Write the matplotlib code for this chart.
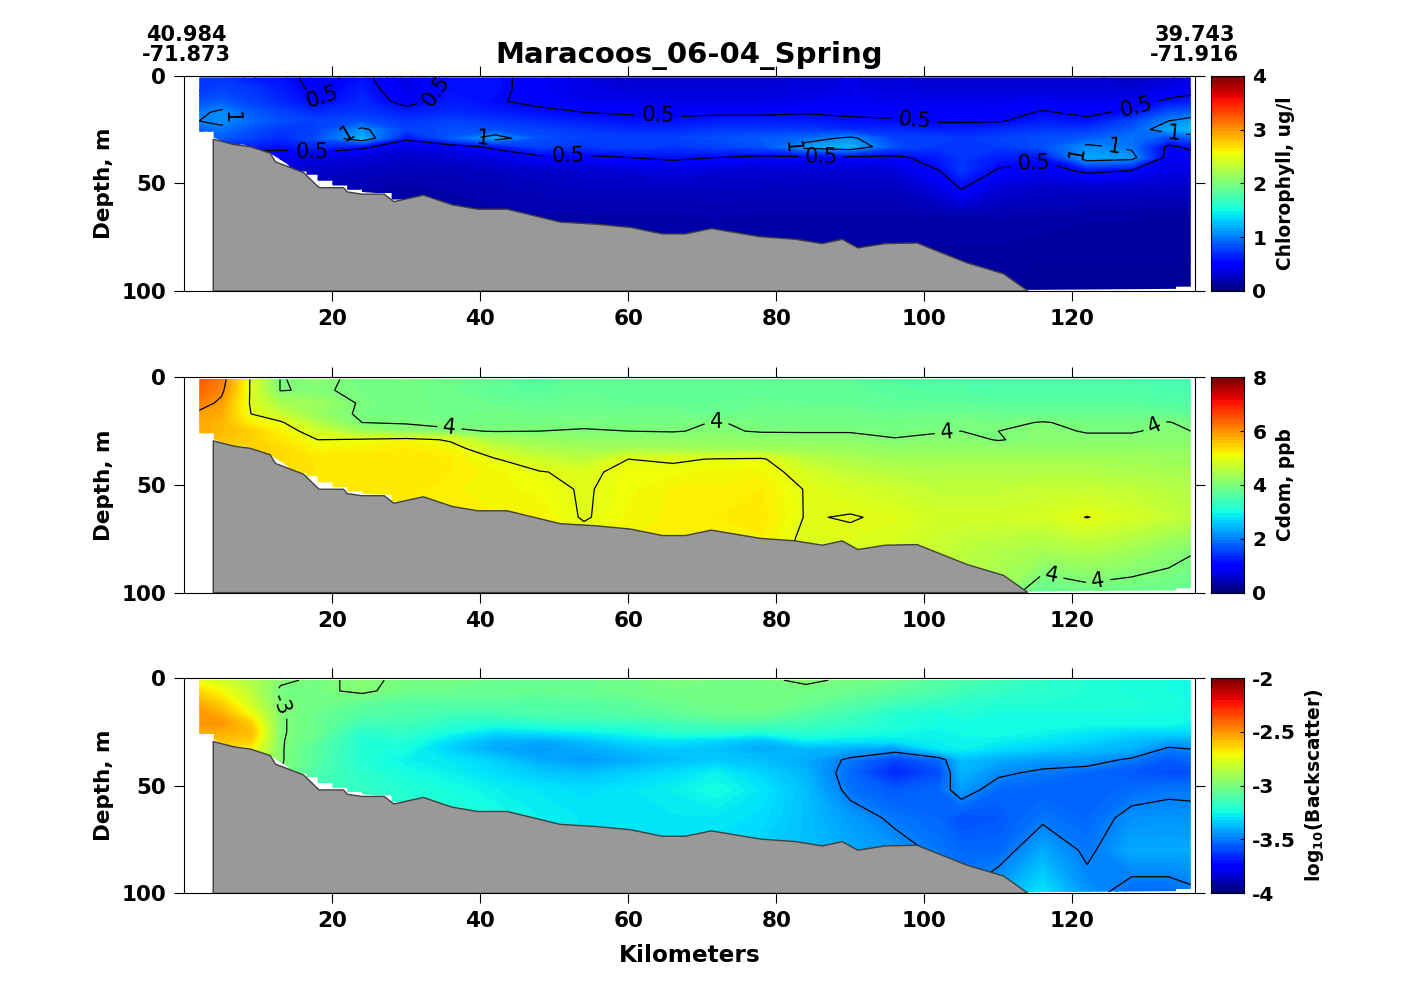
import numpy as np
import matplotlib
matplotlib.use('Agg')
import matplotlib.pyplot as plt
from matplotlib.patches import Polygon

plt.rcParams['font.family'] = 'DejaVu Sans'
plt.rcParams['font.weight'] = 'bold'
plt.rcParams['axes.unicode_minus'] = False
plt.rcParams['mathtext.default'] = 'bf'
plt.rcParams['contour.negative_linestyle'] = 'solid'

km = [2, 5, 9, 13, 18, 24, 30, 36, 42, 48, 54, 60, 66, 72, 78, 84, 90, 96, 102, 105, 110, 116, 122, 128, 133, 136]
depth = [1, 6, 12, 17, 21, 25, 29, 33, 38, 44, 52, 65, 80, 100]

chl = [
    [.70, .70, .60, .55, .45, .55, .35, .55, .55, .42, .35, .30, .30, .30, .30, .32, .35, .32, .30, .30, .30, .30, .30, .25, .30, .35],
    [.70, .75, .70, .60, .45, .60, .35, .55, .55, .42, .35, .30, .30, .30, .30, .32, .35, .32, .30, .30, .30, .30, .30, .28, .35, .40],
    [.80, .85, .75, .65, .50, .65, .42, .60, .52, .45, .38, .38, .35, .35, .35, .38, .40, .38, .38, .38, .40, .40, .38, .40, .55, .60],
    [.95, 1.05, .85, .75, .65, .70, .60, .65, .60, .55, .50, .48, .45, .45, .45, .48, .45, .45, .42, .42, .42, .52, .45, .55, .80, .85],
    [1.0, 1.05, .90, .80, .75, .80, .70, .75, .70, .65, .60, .55, .55, .60, .60, .60, .55, .52, .48, .48, .48, .60, .55, .75, 1.0, 1.10],
    [.85, .95, .80, .70, .75, 1.05, .75, .80, .80, .75, .70, .65, .65, .70, .70, .72, .65, .65, .60, .60, .65, .70, .70, .85, 1.15, 1.20],
    [.80, .85, .75, .65, .80, 1.2, .55, .85, 1.12, .80, .75, .75, .75, .80, .85, .90, 1.05, .75, .75, .70, .75, .80, .85, .95, .75, .85],
    [.50, .60, .60, .55, .65, .55, .35, .40, .55, .75, .70, .75, .70, .75, .80, 1.10, 1.20, .80, .70, .70, .72, .80, 1.05, .95, .45, .55],
    [.30, .35, .35, .40, .35, .30, .25, .28, .35, .45, .45, .50, .55, .50, .45, .45, .45, .45, .60, .70, .60, .55, 1.15, 1.10, .40, .40],
    [.25, .25, .25, .25, .25, .22, .20, .20, .22, .25, .28, .30, .32, .30, .28, .28, .28, .30, .50, .70, .48, .40, .55, .50, .35, .35],
    [.20, .20, .20, .20, .18, .16, .14, .16, .18, .20, .22, .22, .22, .22, .22, .20, .22, .22, .35, .52, .30, .25, .25, .25, .25, .25],
    [.15, .15, .15, .15, .15, .15, .12, .12, .14, .15, .15, .15, .15, .16, .15, .15, .15, .15, .15, .15, .16, .15, .13, .13, .12, .12],
    [.12, .12, .12, .12, .12, .12, .12, .12, .12, .12, .12, .12, .12, .12, .12, .12, .12, .12, .12, .12, .12, .10, .10, .10, .10, .10],
    [.10, .10, .10, .10, .10, .10, .10, .10, .10, .10, .10, .10, .10, .10, .10, .10, .10, .10, .10, .10, .10, .08, .08, .08, .08, .08],
]

cdom = [
    [6.5, 6.2, 4.95, 3.98, 4.1, 3.9, 3.95, 3.85, 3.75, 3.6, 3.75, 3.75, 3.7, 3.7, 3.7, 3.7, 3.7, 3.6, 3.55, 3.5, 3.5, 3.5, 3.5, 3.5, 3.5, 3.5],
    [6.4, 6.1, 4.95, 3.98, 4.05, 3.92, 3.9, 3.82, 3.7, 3.65, 3.75, 3.7, 3.7, 3.7, 3.7, 3.7, 3.7, 3.65, 3.6, 3.6, 3.55, 3.55, 3.55, 3.55, 3.5, 3.5],
    [6.2, 5.9, 4.95, 4.4, 4.3, 3.95, 3.9, 3.85, 3.8, 3.75, 3.8, 3.75, 3.75, 3.75, 3.8, 3.75, 3.75, 3.7, 3.7, 3.7, 3.65, 3.65, 3.65, 3.65, 3.6, 3.6],
    [5.9, 5.8, 5.0, 4.7, 4.25, 3.93, 3.9, 3.85, 3.9, 3.85, 3.85, 3.85, 3.85, 3.8, 3.85, 3.85, 3.85, 3.8, 3.85, 3.85, 3.8, 3.8, 3.8, 3.8, 3.75, 3.7],
    [5.8, 5.7, 5.2, 5.05, 4.5, 4.0, 3.98, 3.92, 3.9, 3.92, 3.95, 3.92, 3.92, 4.02, 3.92, 3.9, 3.9, 3.88, 3.92, 3.95, 3.92, 4.02, 3.92, 3.92, 4.02, 3.9],
    [5.8, 5.7, 5.5, 5.2, 4.8, 4.3, 4.1, 4.05, 3.98, 4.0, 4.02, 4.0, 3.98, 4.05, 3.97, 3.97, 3.97, 3.93, 3.97, 4.0, 4.0, 4.1, 3.97, 3.97, 4.08, 4.0],
    [5.7, 5.6, 5.5, 5.3, 5.0, 5.05, 5.15, 4.95, 4.4, 4.25, 4.2, 4.2, 4.2, 4.2, 4.2, 4.15, 4.15, 4.02, 4.1, 4.1, 3.98, 4.1, 4.1, 4.1, 4.1, 4.1],
    [5.6, 5.5, 5.5, 5.4, 5.15, 5.2, 5.25, 5.15, 4.7, 4.45, 4.35, 4.35, 4.35, 4.3, 4.3, 4.3, 4.25, 4.2, 4.2, 4.2, 4.2, 4.2, 4.2, 4.2, 4.2, 4.2],
    [5.5, 5.5, 5.5, 5.4, 5.3, 5.3, 5.3, 5.25, 5.02, 4.75, 4.6, 5.0, 4.95, 5.02, 5.05, 4.6, 4.45, 4.35, 4.35, 4.35, 4.35, 4.35, 4.35, 4.35, 4.3, 4.3],
    [5.4, 5.4, 5.4, 5.4, 5.3, 5.3, 5.3, 5.25, 5.15, 5.02, 4.92, 5.1, 5.1, 5.15, 5.15, 4.85, 4.65, 4.55, 4.5, 4.5, 4.5, 4.5, 4.5, 4.45, 4.4, 4.4],
    [5.3, 5.3, 5.3, 5.3, 5.3, 5.3, 5.3, 5.2, 5.15, 5.1, 4.97, 5.1, 5.2, 5.2, 5.25, 4.98, 4.85, 4.75, 4.65, 4.65, 4.65, 4.7, 4.7, 4.65, 4.55, 4.5],
    [5.2, 5.2, 5.2, 5.2, 5.2, 5.2, 5.2, 5.2, 5.2, 5.2, 4.97, 5.15, 5.2, 5.25, 5.3, 4.98, 5.02, 4.95, 4.8, 4.8, 4.8, 4.85, 5.01, 4.85, 4.7, 4.6],
    [5.2, 5.2, 5.2, 5.2, 5.2, 5.2, 5.2, 5.2, 5.2, 5.2, 5.2, 5.2, 5.2, 5.2, 5.2, 4.9, 4.9, 4.85, 4.7, 4.6, 4.5, 4.4, 4.5, 4.35, 4.15, 4.05],
    [5.2, 5.2, 5.2, 5.2, 5.2, 5.2, 5.2, 5.2, 5.2, 5.2, 5.2, 5.2, 5.2, 5.2, 5.2, 4.8, 4.8, 4.7, 4.6, 4.5, 4.3, 3.7, 3.85, 3.8, 3.8, 3.7],
]

backscatter = [
    [-2.75, -2.8, -2.88, -2.98, -3.02, -2.98, -3.02, -3.02, -3.05, -3.05, -3.05, -3.04, -3.0, -3.02, -3.02, -2.98, -3.02, -3.05, -3.1, -3.12, -3.15, -3.2, -3.22, -3.24, -3.25, -3.25],
    [-2.65, -2.72, -2.85, -3.02, -3.02, -2.98, -3.04, -3.05, -3.05, -3.06, -3.05, -3.04, -3.02, -3.02, -3.02, -3.03, -3.05, -3.08, -3.12, -3.15, -3.18, -3.2, -3.22, -3.24, -3.25, -3.25],
    [-2.55, -2.62, -2.8, -3.0, -3.03, -3.08, -3.1, -3.1, -3.1, -3.1, -3.1, -3.08, -3.05, -3.03, -3.02, -3.05, -3.1, -3.15, -3.18, -3.2, -3.22, -3.22, -3.22, -3.23, -3.24, -3.25],
    [-2.5, -2.55, -2.72, -2.99, -3.05, -3.1, -3.12, -3.15, -3.15, -3.12, -3.12, -3.1, -3.08, -3.05, -3.05, -3.1, -3.15, -3.22, -3.25, -3.22, -3.25, -3.25, -3.25, -3.25, -3.25, -3.25],
    [-2.5, -2.5, -2.62, -2.99, -3.05, -3.15, -3.15, -3.2, -3.22, -3.2, -3.18, -3.18, -3.15, -3.12, -3.12, -3.15, -3.18, -3.22, -3.25, -3.25, -3.25, -3.25, -3.25, -3.25, -3.25, -3.28],
    [-2.55, -2.55, -2.58, -2.99, -3.05, -3.2, -3.18, -3.25, -3.32, -3.3, -3.28, -3.25, -3.2, -3.2, -3.22, -3.2, -3.22, -3.25, -3.28, -3.25, -3.25, -3.27, -3.3, -3.32, -3.32, -3.32],
    [-2.6, -2.6, -2.62, -2.99, -3.08, -3.22, -3.22, -3.32, -3.4, -3.42, -3.38, -3.32, -3.3, -3.33, -3.38, -3.28, -3.3, -3.3, -3.28, -3.28, -3.28, -3.3, -3.33, -3.38, -3.42, -3.42],
    [-2.65, -2.65, -2.7, -2.99, -3.1, -3.22, -3.25, -3.35, -3.42, -3.45, -3.42, -3.38, -3.36, -3.38, -3.42, -3.4, -3.42, -3.45, -3.3, -3.28, -3.32, -3.35, -3.38, -3.4, -3.52, -3.5],
    [-2.7, -2.7, -2.75, -2.99, -3.1, -3.22, -3.28, -3.3, -3.35, -3.42, -3.45, -3.42, -3.38, -3.36, -3.38, -3.42, -3.52, -3.62, -3.55, -3.38, -3.42, -3.45, -3.45, -3.52, -3.58, -3.55],
    [-2.75, -2.75, -2.8, -3.0, -3.12, -3.2, -3.25, -3.28, -3.32, -3.36, -3.38, -3.35, -3.32, -3.28, -3.34, -3.4, -3.55, -3.68, -3.6, -3.4, -3.48, -3.52, -3.55, -3.58, -3.6, -3.6],
    [-2.8, -2.8, -2.85, -3.0, -3.15, -3.18, -3.22, -3.25, -3.28, -3.3, -3.32, -3.3, -3.28, -3.25, -3.3, -3.38, -3.53, -3.58, -3.55, -3.45, -3.55, -3.56, -3.56, -3.54, -3.52, -3.52],
    [-2.85, -2.85, -2.9, -3.0, -3.15, -3.18, -3.2, -3.22, -3.25, -3.28, -3.3, -3.3, -3.3, -3.3, -3.32, -3.38, -3.45, -3.52, -3.55, -3.6, -3.58, -3.52, -3.55, -3.47, -3.46, -3.47],
    [-2.9, -2.9, -2.9, -3.0, -3.15, -3.18, -3.2, -3.22, -3.25, -3.28, -3.3, -3.3, -3.3, -3.32, -3.35, -3.38, -3.42, -3.46, -3.52, -3.55, -3.55, -3.42, -3.52, -3.42, -3.42, -3.42],
    [-2.9, -2.9, -2.9, -3.0, -3.15, -3.18, -3.2, -3.22, -3.25, -3.28, -3.3, -3.3, -3.3, -3.32, -3.35, -3.38, -3.42, -3.46, -3.5, -3.5, -3.42, -3.3, -3.46, -3.55, -3.55, -3.52],
]

bathy_km = [3.9, 6.7, 8.9, 11.6, 12.3, 16.1, 18.2, 21.5, 22, 24, 27, 28.3, 32.3, 36.2, 39.6, 43.6, 50.8, 55.7, 60.3,
            64.6, 67.7, 71.2, 77.8, 82.6, 86.2, 88.9, 91, 94.7, 99, 105.8, 110.7, 114]
bathy_depth = [29.5, 32, 33, 36, 40, 45, 52, 52, 54, 55, 55, 58.5, 55.5, 60, 62, 62, 68, 69, 70.5,
               73.5, 73.5, 71, 74.8, 76, 78, 76, 80, 78, 77.7, 87, 92, 100]

# outer edge of the sampled section, steps on the bottom left
edge_km = [2, 136, 136, 134, 134, 114, 30, 30, 28, 28, 26, 24, 24, 22, 22, 20, 20, 18, 18, 16.5, 16.5, 14.1, 14.1, 11.6, 8, 6.2, 3.97, 3.97, 2]
edge_depth = [.8, .8, 98, 98, 99, 99.5, 60, 57.5, 57.5, 54.5, 54.5, 54, 53, 53, 51, 51, 48.8, 48.8, 46, 46, 44.5, 44.5, 41.5, 36, 32, 32, 28.7, 26, 26]

titles = ['Chlorophyll, ug/l', 'Cdom, ppb', r'log$_{10}$(Backscatter)']
limits = [(0, 4), (0, 8), (-4, -2)]
bar_ticks = [[0, 1, 2, 3, 4], [0, 2, 4, 6, 8], [-4, -3.5, -3, -2.5, -2]]
bar_labels = [['0', '1', '2', '3', '4'], ['0', '2', '4', '6', '8'], ['-4', '-3.5', '-3', '-2.5', '-2']]
bar_pads = [7, 7, 5]
plain_levels = [[], [5, 6], [-3.5]]
label_levels = [[.5, 1], [4], [-3]]
label_spots = [
    [(18.4, 9), (34.7, 9.5), (64, 19), (98.6, 23), (128.8, 17), (17.3, 30), (51.8, 37), (86, 41), (115, 45),
     (5.8, 20), (22, 27), (40.3, 29), (81.5, 32), (121.3, 36), (125.5, 36), (133.8, 24)],
    [(35.8, 24), (72, 23.4), (103.2, 31), (131.6, 26), (117, 95), (123.6, 98)],
    [(9.3, 19)],
]
fields = [chl, cdom, backscatter]
tops = [75.7, 377.3, 678]

W, H = 1422, 1005
fig = plt.figure(figsize=(W / 100, H / 100), dpi=100)

for i in range(3):
    bottom = 1 - (tops[i] + 215.3) / H
    ax = fig.add_axes([184.4 / W, bottom, (1194.5 - 184.4) / W, 215.3 / H])
    cax = fig.add_axes([1211 / W, bottom, 33 / W, 215.3 / H])

    lo, hi = limits[i]
    z = np.array(fields[i])
    cf = ax.contourf(km, depth, z, levels=np.linspace(lo, hi, 129), cmap='jet', extend='both')
    clip = Polygon(np.column_stack([edge_km, edge_depth]), transform=ax.transData)
    cf.set_clip_path(clip)
    if plain_levels[i]:
        ax.contour(km, depth, z, levels=plain_levels[i], colors='k', linewidths=0.9).set_clip_path(clip)

    cl = ax.contour(km, depth, z, levels=label_levels[i], colors='k', linewidths=0.9)
    cl.set_clip_path(clip)
    ax.set_xlim(0, 136.5)
    ax.set_ylim(100, 0)
    labs = ax.clabel(cl, fmt='%g', fontsize=15, manual=label_spots[i], inline=True)
    for t in labs:
        t.set_fontweight('normal')

    ax.fill(bathy_km + [bathy_km[-1], bathy_km[0]], bathy_depth + [100, 100],
            facecolor='#999999', edgecolor='#404040', linewidth=1, zorder=3)

    ax.set_xticks([20, 40, 60, 80, 100, 120])
    ax.set_yticks([0, 50, 100])
    ax.tick_params(direction='out', length=7.2, width=0.8, top=True, right=True, labelsize=15.5, pad=5.8)
    ax.set_ylabel('Depth, m', fontsize=15.5, fontweight='bold', labelpad=5.6)
    if i == 2:
        ax.set_xlabel('Kilometers', fontsize=16.7, fontweight='bold', labelpad=9)
    if i == 0:
        ax.set_title('Maracoos_06-04_Spring', fontsize=21, fontweight='bold', pad=9)
        ax.text(0.2, 1.048, '40.984\n-71.873', ha='center', va='bottom', fontsize=15, linespacing=1.05,
                transform=ax.get_xaxis_transform())
        ax.text(136.5, 1.048, '39.743\n-71.916', ha='center', va='bottom', fontsize=15, linespacing=1.05,
                transform=ax.get_xaxis_transform())

    grad = np.linspace(lo, hi, 65).reshape(-1, 1)
    cax.imshow(grad, origin='lower', aspect='auto', cmap='jet', vmin=lo, vmax=hi, extent=[0, 1, lo, hi])
    cax.set_xticks([])
    cax.yaxis.tick_right()
    cax.yaxis.set_label_position('right')
    cax.set_yticks(bar_ticks[i])
    cax.set_yticklabels(bar_labels[i])
    cax.tick_params(direction='in', length=3, width=0.8, labelsize=14.5, pad=6)
    cax.set_ylabel(titles[i], fontsize=13.4, fontweight='bold', labelpad=bar_pads[i])

fig.savefig('out.png', dpi=100)
